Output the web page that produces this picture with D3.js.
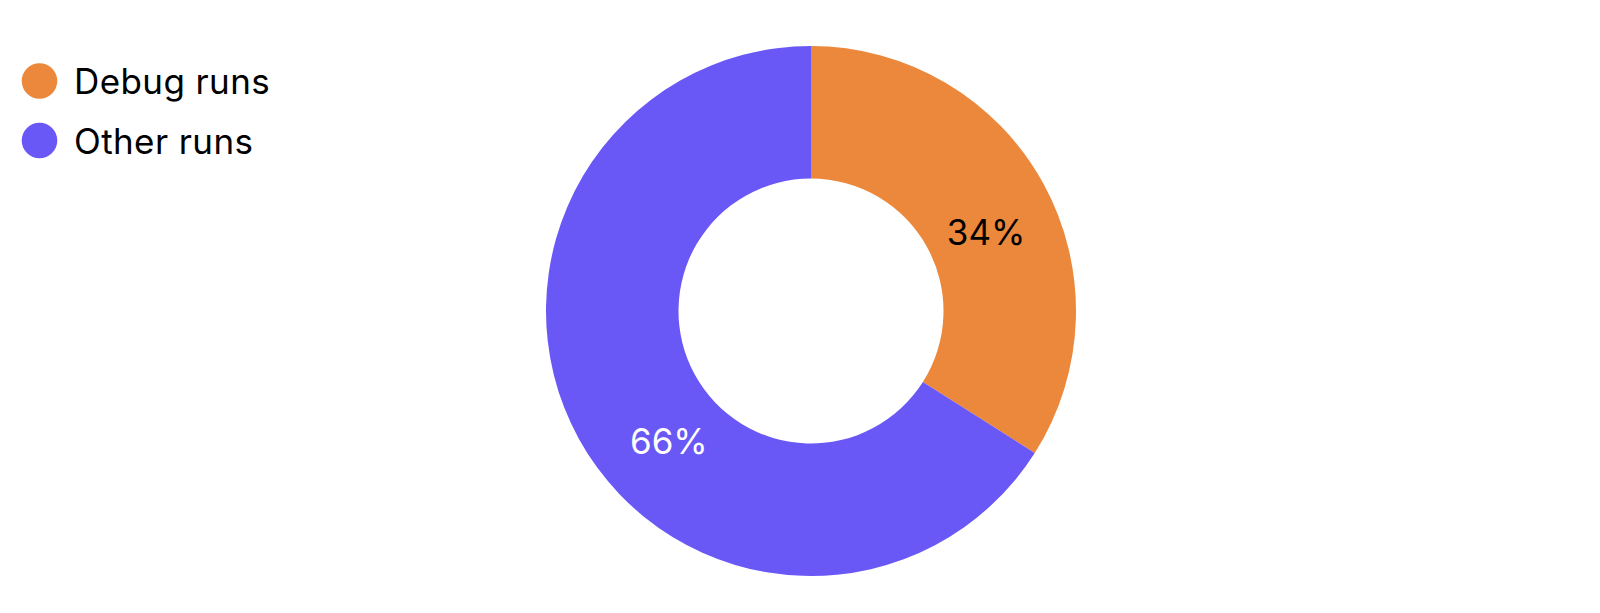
<!DOCTYPE html>
<html>
<head>
<meta charset="utf-8">
<script src="https://cdn.jsdelivr.net/npm/d3@7"></script>
<style>
  html, body { margin: 0; padding: 0; background: #fff; }
  svg { display: block; font-family: Inter, "Noto Sans", sans-serif; }
</style>
</head>
<body>
<svg id="chart" width="1600" height="613"></svg>
<script>
const categories = ["Debug runs", "Other runs"];
const values = [34, 66];
const colors = ["#EC883B", "#6A58F6"];
const labelColors = ["#000000", "#ffffff"];

const W = 1600, H = 613;
const cx = 811, cy = 311, outerR = 265, innerR = 132.5;
const svg = d3.select("#chart");

const pie = d3.pie().sort(null).value(d => d.value);
const data = categories.map((c, i) => ({ name: c, value: values[i], color: colors[i], labelColor: labelColors[i] }));
const arcs = pie(data);
const arc = d3.arc().innerRadius(innerR).outerRadius(outerR);
const total = d3.sum(values);

const g = svg.append("g").attr("transform", `translate(${cx},${cy})`);
g.selectAll("path").data(arcs).enter().append("path")
  .attr("d", arc).attr("fill", d => d.data.color);

// label nudges relative to slice centroid (pixels)
const nudges = [[1, 17], [32, 34]];
g.selectAll("text.lbl").data(arcs).enter().append("text")
  .attr("class", "lbl")
  .attr("x", (d, i) => arc.centroid(d)[0] + nudges[i][0])
  .attr("y", (d, i) => arc.centroid(d)[1] + nudges[i][1])
  .attr("text-anchor", "middle")
  .attr("dominant-baseline", "central")
  .attr("font-size", 35)
  .attr("fill", d => d.data.labelColor)
  .text(d => d3.format(".0%")(d.data.value / total));

const legend = svg.append("g");
const rows = legend.selectAll("g").data(data).enter().append("g")
  .attr("transform", (d, i) => `translate(39.5, ${81 + i * 59.5})`);
rows.append("circle").attr("r", 17.8).attr("fill", d => d.color);
rows.append("text").attr("x", 34.5).attr("y", 0)
  .attr("dominant-baseline", "central")
  .attr("font-size", 35).attr("letter-spacing", 0.4).attr("fill", "#000")
  .text(d => d.name);
</script>
</body>
</html>
